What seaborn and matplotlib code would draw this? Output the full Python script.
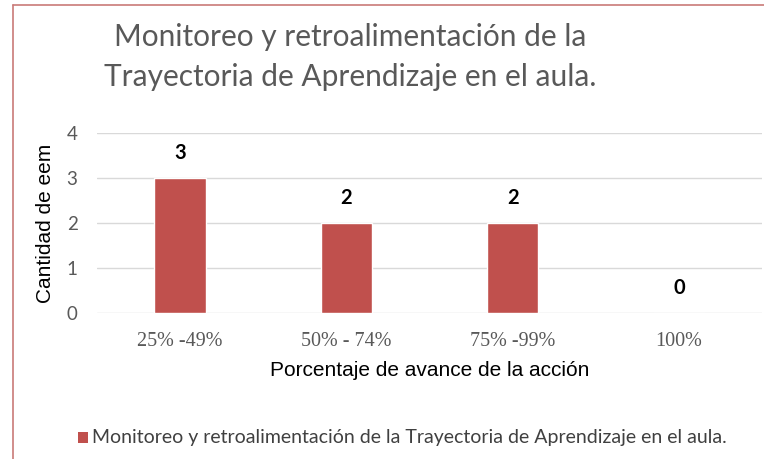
import matplotlib
matplotlib.use("Agg")
import matplotlib.pyplot as plt
import seaborn as sns
import pandas as pd
from matplotlib.lines import Line2D
from matplotlib.patches import Rectangle

categories = ["25% -49%", "50% - 74%", "75% -99%", "100%"]
values = [3, 2, 2, 0]
series_name = "Monitoreo y retroalimentación de la Trayectoria de Aprendizaje en el aula."
title_text = "Monitoreo y retroalimentación de la\nTrayectoria de Aprendizaje en el aula."
xlabel_text = "Porcentaje de avance de la acción"
ylabel_text = "Cantidad de eem"
yticks = [0, 1, 2, 3, 4]

sns.set_theme(style="white")
plt.rcParams['font.family'] = ['Lato', 'DejaVu Sans']

bar_color = "#C0504D"
df = pd.DataFrame({"cat": categories, "val": values})

fig = plt.figure(figsize=(7.64, 4.59), dpi=100)
ax = fig.add_axes([97/764, 1-313/459, (762-97)/764, (313-133)/459])
sns.barplot(data=df, x="cat", y="val", color=bar_color, width=0.31, ax=ax,
            saturation=1, zorder=3)

ax.set_ylim(0, 4)
ax.set_xlim(-0.5, 3.5)
ax.set_yticks(yticks)
ax.set_yticklabels([str(t) for t in yticks], color="#595959", fontsize=13.5)
ax.tick_params(axis='y', length=0, pad=14)
ax.tick_params(axis='x', length=0, pad=14)
for lbl in ax.get_xticklabels():
    lbl.set_fontfamily("Liberation Serif")
    lbl.set_fontsize(14.5)
    lbl.set_color("#595959")
ax.grid(axis='y', color="#D9D9D9", linewidth=1, zorder=0)
for s in ax.spines.values():
    s.set_visible(False)

ax.set_xlabel(xlabel_text, fontfamily="Liberation Sans", fontsize=15, color="black", labelpad=7)
ax.set_ylabel(ylabel_text, fontfamily="Liberation Sans", fontsize=15, color="black", labelpad=8)

for i, v in enumerate(values):
    ax.annotate(str(v), (i, v), xytext=(0, 18), textcoords="offset points",
                ha="center", va="center", fontsize=14.5, fontweight="bold", color="black")

fig.text(350/764, 1-57/459, title_text, ha="center", va="center", fontsize=21.5,
         color="#595959", linespacing=1.55)

# legend
fig.patches.append(Rectangle((78/764, 1-443/459), 10/764, 11/459, transform=fig.transFigure,
                             facecolor=bar_color, edgecolor="none"))
fig.text(92/764, 1-437/459, series_name, ha="left", va="center", fontsize=14, color="#404040")

# red frame
frame_col = "#C97A78"
fig.add_artist(Line2D([13/764, 13/764], [1-5/459, 0], transform=fig.transFigure, color=frame_col, lw=1.2))
fig.add_artist(Line2D([13/764, 1], [1-5/459, 1-5/459], transform=fig.transFigure, color=frame_col, lw=1.2))

fig.savefig("out.png", dpi=100)
